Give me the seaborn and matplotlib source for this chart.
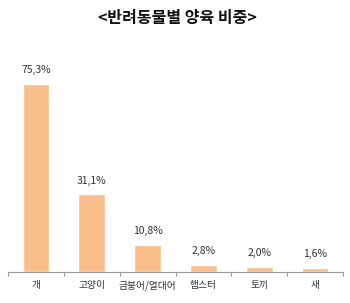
import matplotlib
matplotlib.use("Agg")
import matplotlib.pyplot as plt
import seaborn as sns
import pandas as pd
import numpy as np

categories = ["개", "고양이", "금붕어/열대어", "햄스터", "토끼", "새"]
values = [75.3, 31.1, 10.8, 2.8, 2.0, 1.6]
title = "<반려동물별 양육 비중>"

sns.set_theme(style="white")
plt.rcParams['font.family'] = ['Noto Sans CJK KR', 'DejaVu Sans']

fig = plt.figure(figsize=(3.5, 3.03), dpi=100)
ax = fig.add_axes([8/350, 31/303, 335/350, 212.5/303])

df = pd.DataFrame({"cat": categories, "val": values})
sns.barplot(data=df, x="cat", y="val", color="#F9BE8A", saturation=1, width=0.48, ax=ax)

ax.set_ylim(0, 85)
ax.set_xlim(-0.5, len(categories) - 0.5)
for i, v in enumerate(values):
    ax.text(i, v + 3.5, f"{v:.1f}%".replace(".", ","), ha="center", va="bottom",
            fontsize=7.5, color="#333333")

ax.set_xlabel("")
ax.set_ylabel("")
ax.set_yticks([])
ax.tick_params(axis="x", which="major", length=0, labelsize=7, colors="#333333", pad=6)
ax.set_xticks(np.arange(-0.5, len(categories), 1.0), minor=True)
ax.tick_params(axis="x", which="minor", length=3, width=0.8, color="#999999", direction="out", bottom=True)
for s in ["top", "left", "right"]:
    ax.spines[s].set_visible(False)
ax.spines["bottom"].set_color("#999999")
ax.spines["bottom"].set_linewidth(0.8)

fig.text(177/350, 1 - 18/303, title, ha="center", va="center", fontsize=11.5,
         fontweight="bold", color="#111111")

fig.savefig("out.png", dpi=100)
